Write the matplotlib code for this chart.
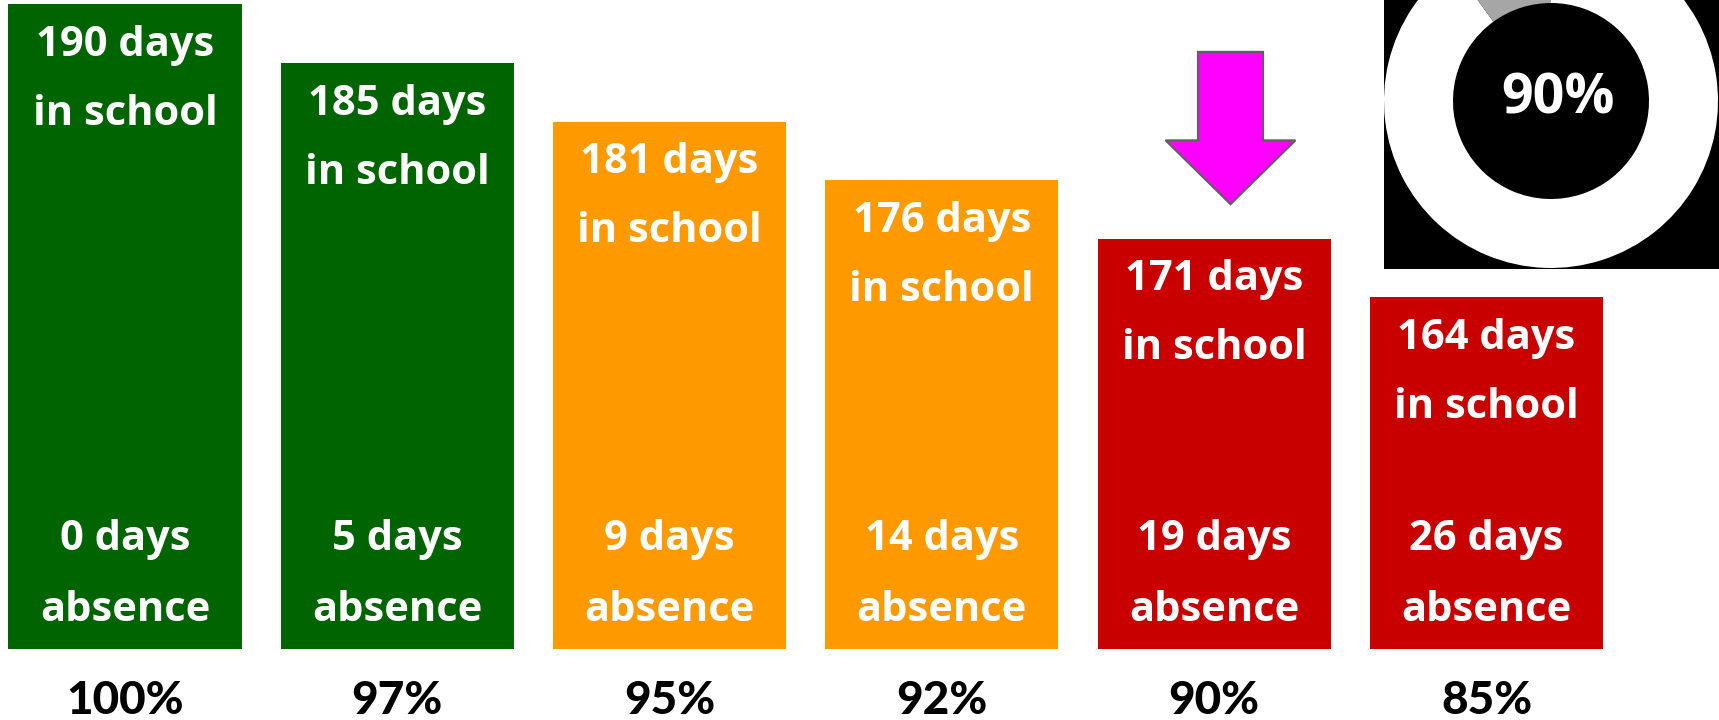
import matplotlib.pyplot as plt
import numpy as np
from matplotlib.patches import FancyArrow

plt.rcParams['font.family'] = ['Open Sans', 'DejaVu Sans']

# data
attendance = ['100%', '97%', '95%', '92%', '90%', '85%']
days_in_school = [190, 185, 181, 176, 171, 164]
days_absent = [0, 5, 9, 14, 19, 26]
bar_heights = [11, 10, 9, 8, 7, 6]   # stepped heights as drawn
bar_colors = ['#006400', '#006400', '#ff9900', '#ff9900', '#c80000', '#c80000']
highlight = 4
donut_values = [90, 10]
donut_label = '90%'

fig = plt.figure(figsize=(17.19, 7.2), dpi=100)
ax = fig.add_axes([0, 0, 1, 1])
ax.set_xlim(-0.459, 5.854)
ax.set_ylim(-1.212, 11.075)
ax.axis('off')

x = np.arange(len(attendance))
ax.bar(x, bar_heights, width=0.856, color=bar_colors, linewidth=0)

txt = dict(color='white', fontsize=30, fontweight='bold', ha='center', va='center')
for i, h in enumerate(bar_heights):
    ax.text(i, h - 0.70, '%d days' % days_in_school[i], **txt)
    ax.text(i, h - 1.88, 'in school', **txt)
    ax.text(i, 1.87, '%d days' % days_absent[i], **txt)
    ax.text(i, 0.66, 'absence', **txt)
    ax.text(i, -0.88, attendance[i], color='black', fontsize=33,
            fontweight=900, ha='center', va='center', family=['Lato', 'DejaVu Sans'])

# magenta arrow pointing at the 90% bar
arr = FancyArrow(highlight + 0.06, 10.19, 0, -2.60, width=0.239, head_width=0.477,
                 head_length=1.09, length_includes_head=True,
                 fc='#ff00ff', ec='#606060', lw=1.5)
ax.add_patch(arr)

# donut in the top right corner
ax2 = fig.add_axes([1384 / 1719, 451 / 720, 335 / 1719, 269 / 720])
ax2.pie(donut_values, colors=['white', '#a6a6a6'], startangle=90, counterclock=False,
        radius=167, center=(167, 168), wedgeprops=dict(width=69, linewidth=0), frame=True)
ax2.set_xlim(0, 335)
ax2.set_ylim(0, 269)
ax2.set_aspect('auto')
ax2.set_facecolor('black')
ax2.set_xticks([])
ax2.set_yticks([])
for s in ax2.spines.values():
    s.set_visible(False)
ax2.text(174, 170, donut_label, color='white', fontsize=40, fontweight='bold',
         ha='center', va='center')

fig.savefig('out.png', dpi=100, facecolor='white')
